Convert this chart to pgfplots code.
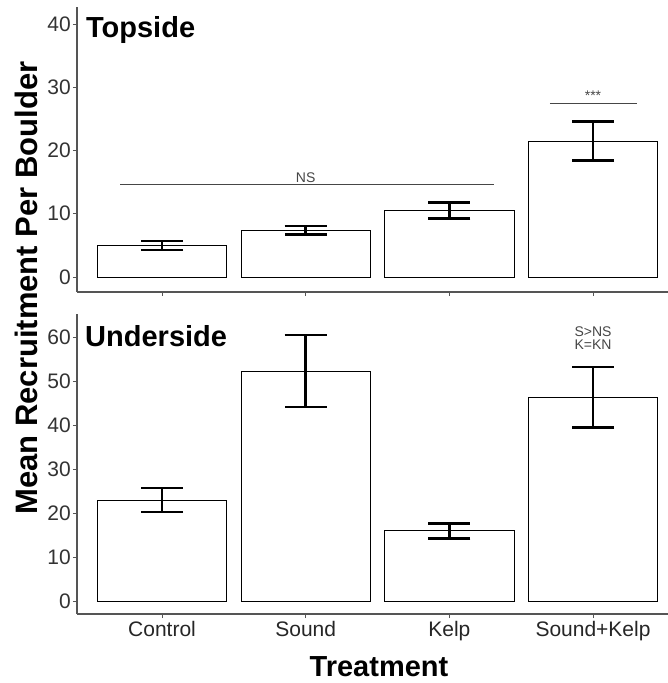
\documentclass[border=0pt]{standalone}
\usepackage{fontspec}
\setmainfont{Liberation Sans}
\usepackage{pgfplots}
\pgfplotsset{compat=1.18}

\definecolor{axisgrey}{RGB}{85,85,85}
\definecolor{annotgrey}{RGB}{70,70,70}

\pgfplotsset{
  panel/.style={
    scale only axis,
    anchor=south west,
    width=591pt,
    xmin=-0.592, xmax=3.522,
    axis lines=left,
    axis line style={-, draw=axisgrey, line width=1.1pt},
    tick align=outside,
    major tick length=4pt,
    tick style={draw=axisgrey, line width=0.9pt},
    xtick={0,1,2,3},
    clip=false,
    /pgf/number format/assume math mode=true,
    yticklabel style={font=\fontsize{21}{21}\selectfont, text=black!80, inner sep=2pt},
    xticklabel style={font=\fontsize{21}{21}\selectfont, text=black!85, inner sep=3pt},
  },
  barstyle/.style={
    ybar, bar width=0.9, fill=white, draw=black, line width=1pt,
    error bars/.cd, y dir=both, y explicit,
    error mark=|,
    error bar style={line width=2.5pt, black},
    error mark options={line width=2.5pt, mark size=21pt, black},
  },
}

\begin{document}
\begin{tikzpicture}[x=1pt,y=1pt]
\useasboundingbox (0,0) rectangle (668,683);

% Topside panel
\begin{axis}[panel, at={(77pt,391pt)}, height=285pt,
  ymin=-2.37, ymax=42.69, ytick={0,10,20,30,40}, xticklabels={}]
  \addplot[barstyle] coordinates {
    (0,5.0)  +- (0,0.7)
    (1,7.4)  +- (0,0.65)
    (2,10.5) +- (0,1.25)
    (3,21.5) +- (0,3.1)
  };
  \draw[annotgrey, line width=1pt] (axis cs:-0.292,14.6) -- (axis cs:2.311,14.6);
  \node[anchor=south, inner sep=1.5pt, text=annotgrey, font=\fontsize{14}{14}\selectfont] at (axis cs:1.0,14.6) {NS};
  \draw[annotgrey, line width=1pt] (axis cs:2.70,27.4) -- (axis cs:3.306,27.4);
  \node[anchor=south, inner sep=2pt, text=annotgrey, font=\fontsize{14}{14}\selectfont] at (axis cs:3.0,27.6) {***};
  \node[anchor=base west, inner sep=0pt, font=\bfseries\fontsize{29}{29}\selectfont] at (axis cs:-0.53,37.9) {Topside};
\end{axis}

% Underside panel
\begin{axis}[panel, at={(77pt,69pt)}, height=300pt,
  ymin=-2.96, ymax=65.4, ytick={0,10,20,30,40,50,60},
  xticklabels={Control,Sound,Kelp,Sound+Kelp}]
  \addplot[barstyle] coordinates {
    (0,23.0) +- (0,2.75)
    (1,52.4) +- (0,8.2)
    (2,16.0) +- (0,1.7)
    (3,46.4) +- (0,6.9)
  };
  \node[align=center, inner sep=0pt, text=annotgrey, font=\fontsize{14}{13}\selectfont] at (axis cs:3.0,60.0) {S>NS\\K=KN};
  \node[anchor=base west, inner sep=0pt, font=\bfseries\fontsize{29}{29}\selectfont] at (axis cs:-0.536,57.95) {Underside};
\end{axis}

% Shared axis titles
\node[rotate=90, anchor=base, inner sep=0pt, font=\bfseries\fontsize{31}{31}\selectfont] at (37,395) {Mean Recruitment Per Boulder};
\node[anchor=base, inner sep=0pt, font=\bfseries\fontsize{29}{29}\selectfont] at (379,6.5) {Treatment};
\end{tikzpicture}
\end{document}
